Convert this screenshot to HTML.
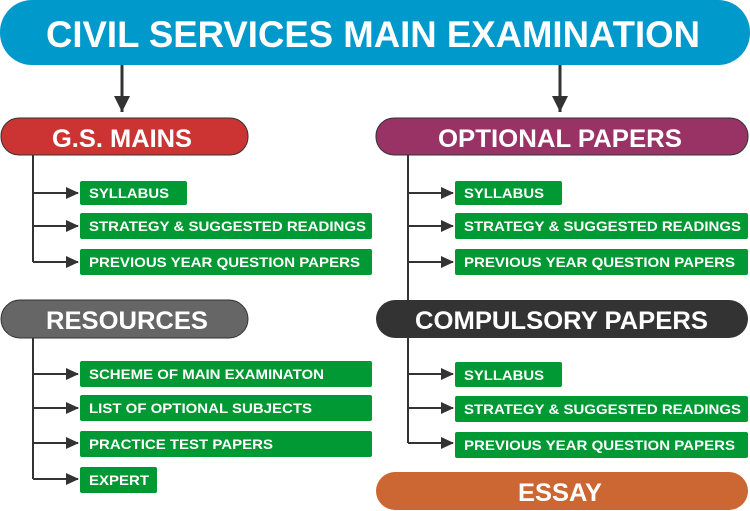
<!DOCTYPE html>
<html><head><meta charset="utf-8"><style>
html,body{margin:0;padding:0;background:#fff;}
svg{display:block;}
text{font-family:"Liberation Sans",sans-serif;font-weight:bold;fill:#fff;}
</style></head><body>
<svg width="750" height="511" viewBox="0 0 750 511" xmlns="http://www.w3.org/2000/svg">
<defs>
<marker id="ah" markerWidth="13" markerHeight="12" refX="12" refY="6" orient="auto" markerUnits="userSpaceOnUse">
<path d="M0,0 L13,6 L0,12 z" fill="#333"/>
</marker>
<marker id="ahb" markerWidth="18" markerHeight="16" refX="16" refY="8" orient="auto" markerUnits="userSpaceOnUse">
<path d="M0,0 L16,8 L0,16 z" fill="#333"/>
</marker>
</defs>
<rect x="0" y="0" width="750" height="65" rx="32" fill="#0099cc"/>
<text x="46" y="47" font-size="37" textLength="654" lengthAdjust="spacingAndGlyphs">CIVIL SERVICES MAIN EXAMINATION</text>
<line x1="122" y1="65" x2="122" y2="112" stroke="#333" stroke-width="3" marker-end="url(#ahb)"/>
<line x1="560" y1="65" x2="560" y2="112" stroke="#333" stroke-width="3" marker-end="url(#ahb)"/>
<rect x="1" y="118" width="247" height="37" rx="18" fill="#cc3333" stroke="#333" stroke-width="1"/>
<text x="52" y="147" font-size="25" textLength="140" lengthAdjust="spacingAndGlyphs">G.S. MAINS</text>
<rect x="376" y="118" width="372" height="37" rx="18" fill="#993366" stroke="#333" stroke-width="1"/>
<text x="438" y="147" font-size="25" textLength="244" lengthAdjust="spacingAndGlyphs">OPTIONAL PAPERS</text>
<rect x="1" y="300" width="247" height="38" rx="19" fill="#666666" stroke="#333" stroke-width="1"/>
<text x="46" y="329" font-size="25" textLength="162" lengthAdjust="spacingAndGlyphs">RESOURCES</text>
<rect x="376" y="300" width="372" height="38" rx="19" fill="#333333"/>
<text x="415" y="329" font-size="25" textLength="293" lengthAdjust="spacingAndGlyphs">COMPULSORY PAPERS</text>
<rect x="376" y="472" width="372" height="38" rx="19" fill="#cc6633"/>
<text x="518" y="501" font-size="25" textLength="84" lengthAdjust="spacingAndGlyphs">ESSAY</text>
<g stroke="#333" stroke-width="2" fill="none">
<polyline points="33,155 33,262"/>
<line x1="33" y1="193" x2="78" y2="193" marker-end="url(#ah)"/>
<line x1="33" y1="226" x2="78" y2="226" marker-end="url(#ah)"/>
<line x1="33" y1="262" x2="78" y2="262" marker-end="url(#ah)"/>
<polyline points="408,155 408,300"/>
<line x1="408" y1="193" x2="453" y2="193" marker-end="url(#ah)"/>
<line x1="408" y1="226" x2="453" y2="226" marker-end="url(#ah)"/>
<line x1="408" y1="262" x2="453" y2="262" marker-end="url(#ah)"/>
<polyline points="33,338 33,479"/>
<line x1="33" y1="374" x2="78" y2="374" marker-end="url(#ah)"/>
<line x1="33" y1="408" x2="78" y2="408" marker-end="url(#ah)"/>
<line x1="33" y1="443" x2="78" y2="443" marker-end="url(#ah)"/>
<line x1="33" y1="479" x2="78" y2="479" marker-end="url(#ah)"/>
<polyline points="408,338 408,443"/>
<line x1="408" y1="374" x2="453" y2="374" marker-end="url(#ah)"/>
<line x1="408" y1="408" x2="453" y2="408" marker-end="url(#ah)"/>
<line x1="408" y1="443" x2="453" y2="443" marker-end="url(#ah)"/>
</g>
<g fill="#009933">
<rect x="80" y="181" width="107" height="24" rx="2"/>
<rect x="80" y="213" width="292" height="26" rx="2"/>
<rect x="80" y="249" width="292" height="26" rx="2"/>
<rect x="455" y="181" width="107" height="24" rx="2"/>
<rect x="455" y="213" width="293" height="26" rx="2"/>
<rect x="455" y="249" width="293" height="26" rx="2"/>
<rect x="80" y="361" width="292" height="26" rx="2"/>
<rect x="80" y="395" width="292" height="26" rx="2"/>
<rect x="80" y="431" width="292" height="26" rx="2"/>
<rect x="80" y="467" width="77" height="26" rx="2"/>
<rect x="455" y="362" width="107" height="25" rx="2"/>
<rect x="455" y="396" width="293" height="26" rx="2"/>
<rect x="455" y="432" width="293" height="26" rx="2"/>
</g>
<g font-size="14">
<text x="89" y="198" textLength="80" lengthAdjust="spacingAndGlyphs">SYLLABUS</text>
<text x="89" y="231" textLength="277" lengthAdjust="spacingAndGlyphs">STRATEGY &amp; SUGGESTED READINGS</text>
<text x="89" y="267" textLength="271" lengthAdjust="spacingAndGlyphs">PREVIOUS YEAR QUESTION PAPERS</text>
<text x="464" y="198" textLength="80" lengthAdjust="spacingAndGlyphs">SYLLABUS</text>
<text x="464" y="231" textLength="277" lengthAdjust="spacingAndGlyphs">STRATEGY &amp; SUGGESTED READINGS</text>
<text x="464" y="267" textLength="271" lengthAdjust="spacingAndGlyphs">PREVIOUS YEAR QUESTION PAPERS</text>
<text x="89" y="379" textLength="235" lengthAdjust="spacingAndGlyphs">SCHEME OF MAIN EXAMINATON</text>
<text x="89" y="413" textLength="223" lengthAdjust="spacingAndGlyphs">LIST OF OPTIONAL SUBJECTS</text>
<text x="89" y="449" textLength="184" lengthAdjust="spacingAndGlyphs">PRACTICE TEST PAPERS</text>
<text x="89" y="485" textLength="60" lengthAdjust="spacingAndGlyphs">EXPERT</text>
<text x="464" y="380" textLength="80" lengthAdjust="spacingAndGlyphs">SYLLABUS</text>
<text x="464" y="414" textLength="277" lengthAdjust="spacingAndGlyphs">STRATEGY &amp; SUGGESTED READINGS</text>
<text x="464" y="450" textLength="271" lengthAdjust="spacingAndGlyphs">PREVIOUS YEAR QUESTION PAPERS</text>
</g>
</svg>
</body></html>
